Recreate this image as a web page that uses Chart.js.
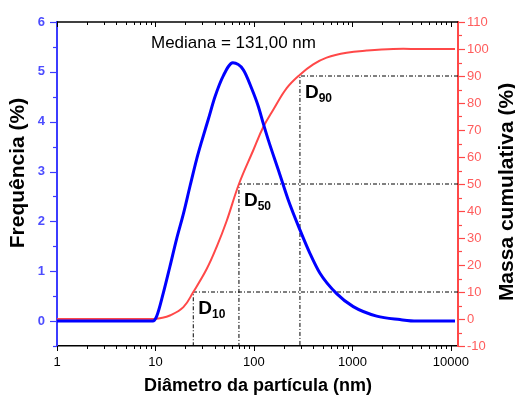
<!DOCTYPE html>
<html lang="pt">

<head>
    <meta charset="UTF-8">
    <title>Distribuição de tamanho de partícula</title>
    <style>
        body { margin: 0; background: #fff; }
        canvas { display: block; }
    </style>
</head>

<body>
    <canvas id="myChart" width="515" height="398"></canvas>

    <script src="https://cdn.jsdelivr.net/npm/chart.js@4.4.1/dist/chart.umd.min.js"></script>
    <script>
        // frequency curve (left axis)
        var freqDiam = [1, 3, 6, 9.4, 10.3, 12, 14, 16.4, 19.2, 22.5, 26.2, 29.4, 34.4, 40.2, 48.8, 61, 78, 95, 111, 124, 140, 179, 223, 293, 370, 468, 691, 1019, 1762, 3034, 4484, 7000, 11000];
        var freqVal = [0, 0, 0, 0, 0.1, 0.56, 1.09, 1.65, 2.15, 2.72, 3.25, 3.6, 4.05, 4.5, 4.92, 5.18, 5.04, 4.66, 4.3, 3.97, 3.63, 3.0, 2.43, 1.83, 1.36, 0.96, 0.55, 0.29, 0.1, 0.03, 0, 0, 0];

        // cumulative mass curve (right axis)
        var cumDiam = [1, 3, 6, 9.5, 11.1, 14, 19.2, 24.2, 33.1, 41.8, 52.8, 70.4, 98.4, 124, 157, 215, 293, 400, 547, 873, 1393, 2595, 5000, 11000];
        var cumVal = [0, 0, 0, 0, 0.3, 1.3, 4.4, 10, 18.5, 26.7, 36.3, 50, 62.5, 71, 77.5, 85.5, 90.5, 94.3, 96.8, 98.6, 99.4, 100, 100, 100];

        // D10 / D50 / D90
        var dNames = ['10', '50', '90'];
        var dDiam = [24.2, 70.4, 293];
        var dLevel = [10, 50, 90];

        var xTicks = [1, 10, 100, 1000, 10000];
        var yTicks = [0, 1, 2, 3, 4, 5, 6];
        var y2Ticks = [-10, 0, 10, 20, 30, 40, 50, 60, 70, 80, 90, 100, 110];

        var X_MIN = 1, X_MAX = 11800;
        var Y_MIN = -0.5, Y_MAX = 6;
        var Y2_MIN = -10, Y2_MAX = 110;

        var blue = '#0000ff';
        var leftColor = '#3c3cff';
        var red = '#ff4848';
        var FONT = '"Liberation Sans", Arial, sans-serif';

        function pts(xs, ys) {
            return xs.map(function (v, i) { return { x: v, y: ys[i] }; });
        }

        var datasets = [
            {
                label: 'Frequência',
                data: pts(freqDiam, freqVal),
                yAxisID: 'y',
                borderColor: blue,
                borderWidth: 3,
                cubicInterpolationMode: 'monotone'
            },
            {
                label: 'Massa cumulativa',
                data: pts(cumDiam, cumVal),
                yAxisID: 'y2',
                borderColor: red,
                borderWidth: 2,
                tension: 0.4
            }
        ];
        dDiam.forEach(function (d, i) {
            datasets.push({
                label: 'D' + dNames[i],
                data: [{ x: X_MAX, y: dLevel[i] }, { x: d, y: dLevel[i] }, { x: d, y: Y2_MIN }],
                yAxisID: 'y2',
                borderColor: '#000',
                borderWidth: 1,
                borderDash: [4, 2, 1, 2]
            });
        });

        // tick marks: bottom outward, top inward, left/right outward
        var tickMarks = {
            id: 'tickMarks',
            afterDraw: function (chart) {
                var ctx = chart.ctx, a = chart.chartArea;
                var sx = chart.scales.x, sy = chart.scales.y, sy2 = chart.scales.y2;
                ctx.save();
                function seg(x1, y1, x2, y2) {
                    ctx.beginPath(); ctx.moveTo(x1, y1); ctx.lineTo(x2, y2); ctx.stroke();
                }
                ctx.lineWidth = 1;
                ctx.strokeStyle = '#000';
                for (var k = 0; k <= 4; k++) {
                    for (var m = 1; m <= 9; m++) {
                        var v = m * Math.pow(10, k);
                        if (v > X_MAX) break;
                        var px = Math.round(sx.getPixelForValue(v)) + 0.5;
                        var len = m === 1 ? 5 : 3;
                        seg(px, a.bottom, px, a.bottom + len);
                        seg(px, a.top, px, a.top + len);
                    }
                }
                ctx.lineWidth = 1.5;
                seg(a.left, a.top, a.right, a.top);

                ctx.lineWidth = 1.2;
                ctx.strokeStyle = leftColor;
                for (var yv = Y_MIN; yv <= Y_MAX + 1e-9; yv += 0.5) {
                    var py = Math.round(sy.getPixelForValue(yv)) + 0.5;
                    var l = Number.isInteger(yv) ? 7 : 4;
                    seg(a.left - l, py, a.left, py);
                }
                ctx.strokeStyle = red;
                for (var rv = Y2_MIN; rv <= Y2_MAX; rv += 5) {
                    var pr = Math.round(sy2.getPixelForValue(rv)) + 0.5;
                    var lr = rv % 10 === 0 ? 7 : 4;
                    seg(a.right, pr, a.right + lr, pr);
                }
                ctx.restore();
            }
        };

        // titles and annotations
        var labels = {
            id: 'labels',
            afterDraw: function (chart) {
                var ctx = chart.ctx;
                var sx = chart.scales.x, sy2 = chart.scales.y2;
                ctx.save();
                ctx.fillStyle = '#000';

                ctx.font = 'bold 18px ' + FONT;
                ctx.textAlign = 'center';
                ctx.textBaseline = 'middle';
                ctx.fillText('Diâmetro da partícula (nm)', 258, 386);

                ctx.font = 'bold 21px ' + FONT;
                ctx.save();
                ctx.translate(18, 173);
                ctx.rotate(-Math.PI / 2);
                ctx.fillText('Frequência (%)', 0, 0);
                ctx.restore();
                ctx.save();
                ctx.translate(507, 192);
                ctx.rotate(-Math.PI / 2);
                ctx.fillText('Massa cumulativa (%)', 0, 0);
                ctx.restore();

                ctx.textAlign = 'left';
                ctx.font = '17px ' + FONT;
                ctx.fillText('Mediana = 131,00 nm', 151, 43);

                dDiam.forEach(function (d, i) {
                    var px = sx.getPixelForValue(d) + 5;
                    var py = sy2.getPixelForValue(dLevel[i]) + 22;
                    ctx.textBaseline = 'alphabetic';
                    ctx.font = 'bold 19px ' + FONT;
                    ctx.fillText('D', px, py);
                    var w = ctx.measureText('D').width;
                    ctx.font = 'bold 12px ' + FONT;
                    ctx.fillText(dNames[i], px + w, py + 4);
                });
                ctx.restore();
            }
        };

        function setTicks(list) {
            return function (s) { s.ticks = list.map(function (v) { return { value: v }; }); };
        }

        var ctx = document.getElementById('myChart').getContext('2d');
        var myChart = new Chart(ctx, {
            type: 'scatter',
            data: { datasets: datasets },
            options: {
                responsive: false,
                animation: false,
                showLine: true,
                elements: { point: { radius: 0 } },
                layout: { padding: { top: 22, left: 0, right: 0, bottom: 0 } },
                plugins: { legend: { display: false }, tooltip: { enabled: false } },
                scales: {
                    x: {
                        type: 'logarithmic',
                        position: 'bottom',
                        min: X_MIN,
                        max: X_MAX,
                        afterBuildTicks: setTicks(xTicks),
                        afterFit: function (s) { s.height = 52; },
                        grid: { display: false },
                        border: { color: '#000', width: 1.5 },
                        ticks: {
                            autoSkip: false,
                            maxRotation: 0,
                            padding: 1,
                            color: '#000',
                            font: { family: FONT, size: 13 },
                            callback: function (v) { return String(v); }
                        }
                    },
                    y: {
                        position: 'left',
                        min: Y_MIN,
                        max: Y_MAX,
                        afterBuildTicks: setTicks(yTicks),
                        afterFit: function (s) { s.width = 57; },
                        grid: { display: false },
                        border: { color: leftColor, width: 2 },
                        ticks: {
                            padding: 4,
                            color: '#4d4dff',
                            font: { family: FONT, size: 13, weight: 'bold' }
                        }
                    },
                    y2: {
                        position: 'right',
                        min: Y2_MIN,
                        max: Y2_MAX,
                        afterBuildTicks: setTicks(y2Ticks),
                        afterFit: function (s) { s.width = 57; },
                        grid: { display: false },
                        border: { color: red, width: 2 },
                        ticks: {
                            padding: 1,
                            color: '#ff5c5c',
                            font: { family: FONT, size: 13 }
                        }
                    }
                }
            },
            plugins: [tickMarks, labels]
        });
    </script>
</body>

</html>
